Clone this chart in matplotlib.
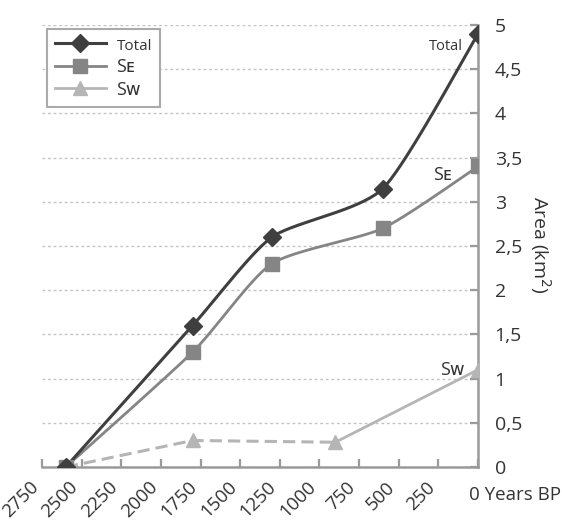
import matplotlib
matplotlib.use("Agg")
import matplotlib.pyplot as plt
import numpy as np

plt.rcParams["font.family"] = ["Open Sans", "DejaVu Sans"]

# ── Data ────────────────────────────────────────────────────────────────────
years = [2600, 1800, 1300, 600, 0]
total = [0.0, 1.6, 2.6, 3.15, 4.9]
s_east = [0.0, 1.3, 2.3, 2.7, 3.4]

sw_years = [2600, 1800, 900, 0]
s_west = [0.0, 0.3, 0.28, 1.1]

x_ticks = list(range(2750, -1, -250))
x_labels = [str(v) if v else "" for v in x_ticks]
y_ticks = [i * 0.5 for i in range(11)]
y_labels = [f"{v:g}".replace(".", ",") for v in y_ticks]

C_TOTAL = "#3f3f3f"
C_SE = "#858585"
C_SW = "#b5b5b5"
C_AXIS = "#9a9a9a"
C_TEXT = "#333333"


def smooth(xs, ys, k=0.11, n=40):
    """Lightly smoothed line (cardinal Bezier spline) in normalised units."""
    pts = np.column_stack([np.asarray(xs) / 2750.0, np.asarray(ys) / 5.0])
    p = np.vstack([pts[0], pts, pts[-1]])
    t = np.linspace(0, 1, n)[:, None]
    segs = []
    for i in range(1, len(p) - 2):
        p0, p1, p2, p3 = p[i - 1], p[i], p[i + 1], p[i + 2]
        c1 = p1 + (p2 - p0) * k
        c2 = p2 - (p3 - p1) * k
        segs.append((1 - t) ** 3 * p1 + 3 * (1 - t) ** 2 * t * c1
                    + 3 * (1 - t) * t ** 2 * c2 + t ** 3 * p2)
    out = np.vstack(segs)
    return out[:, 0] * 2750.0, out[:, 1] * 5.0


fig = plt.figure(figsize=(5.62, 5.22), dpi=100)
ax = fig.add_axes([42 / 562, 1 - 467 / 522, 436 / 562, 442 / 522])

# grid
ax.set_axisbelow(True)
ax.yaxis.grid(True, linestyle=(0, (2, 2)), color="#c4c4c4", linewidth=1)

# Sw: dashed up to 900 BP, solid afterwards
ax.plot(sw_years[:3], s_west[:3], color=C_SW, lw=2.2, ls=(0, (4, 2)), zorder=2)
ax.plot(sw_years[2:], s_west[2:], color=C_SW, lw=2, zorder=2)
ax.plot(sw_years, s_west, ls="none", marker="^", ms=10, color=C_SW, zorder=3)

sx, sy = smooth(years, s_east)
ax.plot(sx, sy, color=C_SE, lw=2, zorder=4)
ax.plot(years, s_east, ls="none", marker="s", ms=10, color=C_SE, zorder=5)

tx, ty = smooth(years, total)
ax.plot(tx, ty, color=C_TOTAL, lw=2.2, zorder=4)
ax.plot(years, total, ls="none", marker="D", ms=9, color=C_TOTAL, zorder=5)

ax.set_xlim(2750, 0)
ax.set_ylim(0, 5)

for side in ("left", "top"):
    ax.spines[side].set_visible(False)
for side in ("bottom", "right"):
    ax.spines[side].set_color(C_AXIS)
    ax.spines[side].set_linewidth(1.8)

ax.set_xticks(x_ticks)
ax.set_xticklabels(x_labels, rotation=45, ha="right", fontsize=13.5, color=C_TEXT)
ax.yaxis.tick_right()
ax.set_yticks(y_ticks)
ax.set_yticklabels(y_labels, fontsize=14, color=C_TEXT)
ax.tick_params(axis="x", direction="in", length=6, width=1.6, color=C_AXIS, pad=8)
ax.tick_params(axis="y", direction="in", length=6, width=1.6, color=C_AXIS, pad=12)

# series labels next to the last points
ax.text(95, 4.76, "Total", ha="right", va="center", fontsize=10.5, color=C_TEXT)
ax.text(164, 3.30, "S\u1d07", ha="right", va="center", fontsize=13, color=C_TEXT)
ax.text(82, 1.10, "S\u1d21", ha="right", va="center", fontsize=13, color=C_TEXT)

fig.text(469 / 562, 1 - 495 / 522, "0 Years BP", ha="left", va="center",
         fontsize=13.5, color=C_TEXT)
fig.text(540 / 562, 1 - 245 / 522, "Area (km$^2$)", rotation=-90,
         ha="center", va="center", fontsize=14, color=C_TEXT)

h_total, = ax.plot([], [], color=C_TOTAL, lw=2.2, marker="D", ms=9)
h_se, = ax.plot([], [], color=C_SE, lw=2, marker="s", ms=10)
h_sw, = ax.plot([], [], color=C_SW, lw=2, marker="^", ms=10)
leg = ax.legend([h_total, h_se, h_sw], ["Total", "S\u1d07", "S\u1d21"],
                loc="upper left", bbox_to_anchor=(47 / 562, 1 - 29 / 522),
                bbox_transform=fig.transFigure, borderaxespad=0,
                fancybox=False, framealpha=1, edgecolor="#aaaaaa",
                handlelength=2.8, handletextpad=0.6, labelspacing=0.25,
                borderpad=0.45, fontsize=13)
leg.get_frame().set_linewidth(1.5)
leg.get_texts()[0].set_fontsize(11)
for t in leg.get_texts():
    t.set_color(C_TEXT)

fig.savefig("out.png", dpi=100)
